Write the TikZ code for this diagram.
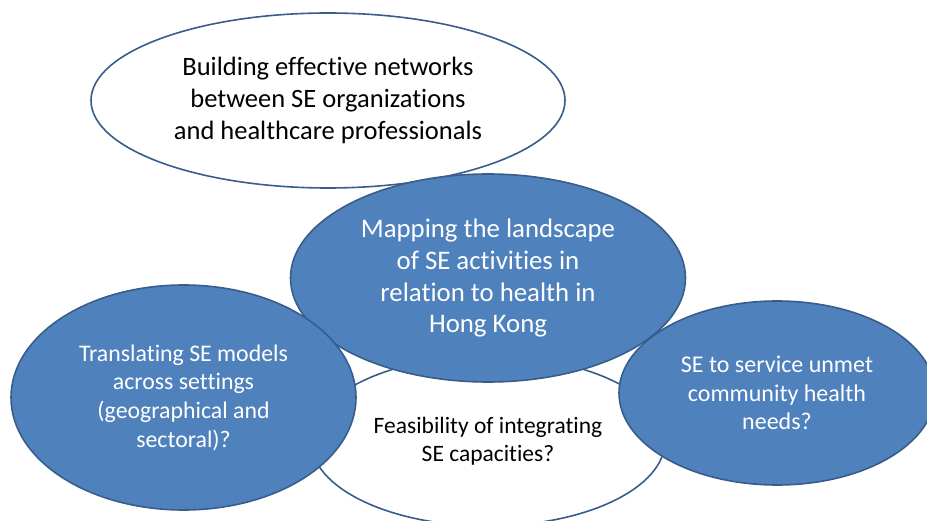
\documentclass[tikz,border=0pt]{standalone}
\usepackage{fontspec}
\setmainfont{Carlito}[Ligatures=CommonOff]
\usetikzlibrary{shapes.geometric}
\definecolor{seblue}{RGB}{79,129,189}
\definecolor{seedge}{RGB}{56,93,138}

\begin{document}
\begin{tikzpicture}[x=1pt,y=-1pt,
    bubble/.style={ellipse,draw=seedge,line width=1.6pt,inner sep=0pt,align=center},
    whitebubble/.style={bubble,fill=white,text=black},
    bluebubble/.style={bubble,fill=seblue,text=white}]

      \useasboundingbox (0,0) rectangle (927,521);

      \node[whitebubble,minimum width=354pt,minimum height=170pt,
            font=\fontsize{23.5}{28.5}\selectfont] (feasible) at (488,441)
            {Feasibility of integrating\\SE capacities?};
      \node[whitebubble,minimum width=474pt,minimum height=175pt,
            font=\fontsize{26.5}{32}\selectfont] (networks) at (328,100.5)
            {Building effective networks\\between SE organizations\\and healthcare professionals};
      \node[bluebubble,minimum width=395pt,minimum height=208pt,
            font=\fontsize{26.8}{32}\selectfont] (mapping) at (488,278)
            {Mapping the landscape\\of SE activities in\\relation to health in\\Hong Kong};
      \node[bluebubble,minimum width=345pt,minimum height=225pt,
            font=\fontsize{23.8}{28.7}\selectfont] (translate) at (183.5,397.5)
            {Translating SE models\\across settings\\(geographical and\\sectoral)?};
      \node[bluebubble,minimum width=316pt,minimum height=184pt,
            font=\fontsize{24}{28.7}\selectfont] (unmet) at (777,393)
            {SE to service unmet\\community health\\needs?};

    \end{tikzpicture}
\end{document}
